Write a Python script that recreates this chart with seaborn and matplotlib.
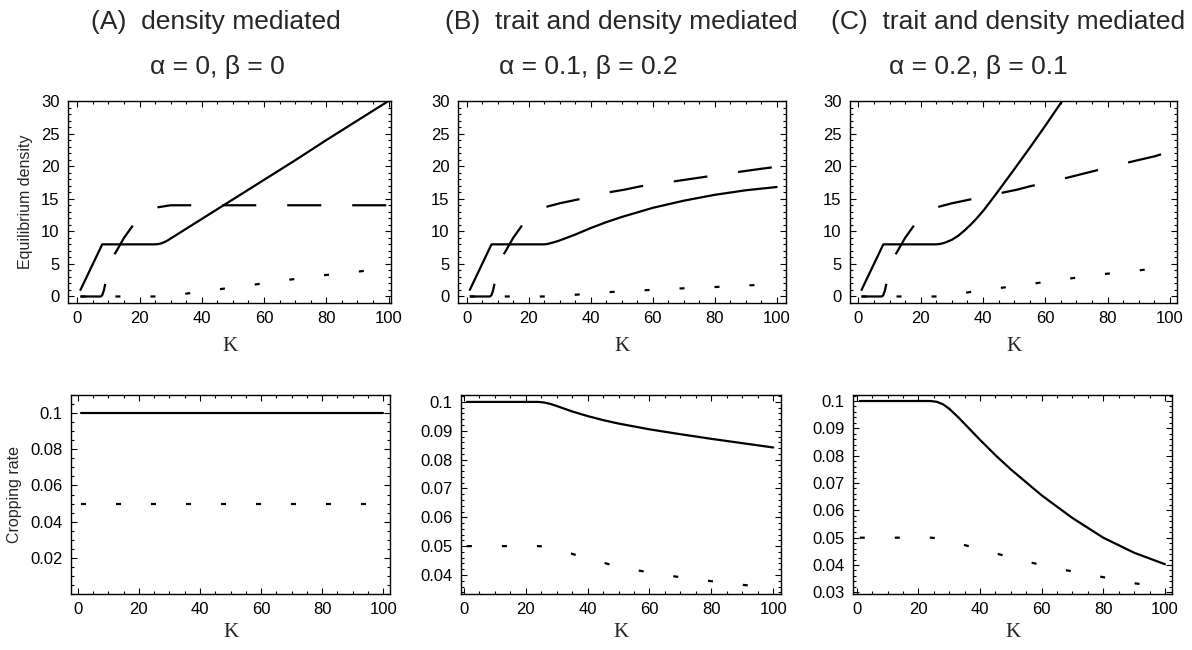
import matplotlib
matplotlib.use("Agg")
import matplotlib.pyplot as plt
import seaborn as sns
from matplotlib.ticker import MultipleLocator, FuncFormatter

# ---- data ----
# prey density (solid)
K_N_A = [1, 8, 25, 26, 27, 28, 29, 30, 32, 40, 50, 60, 70, 80, 90, 100]
N_A = [1, 8, 8, 8.05, 8.15, 8.35, 8.6, 8.9, 9.5, 11.9, 14.9, 17.9, 20.9, 24.0, 27.0, 30.0]
K_N_B = [1, 8, 25, 26, 28, 30, 35, 40, 45, 50, 60, 70, 80, 90, 100]
N_B = [1, 8, 8, 8.05, 8.3, 8.6, 9.5, 10.5, 11.4, 12.2, 13.6, 14.7, 15.6, 16.3, 16.8]
K_N_C = [1, 8, 25, 26, 27, 28, 30, 32, 34, 36, 38, 40, 44, 50, 55, 60, 65, 70]
N_C = [1, 8, 8, 8.05, 8.15, 8.3, 8.7, 9.3, 10.1, 11.0, 12.0, 13.1, 15.6, 19.5, 22.8, 26.2, 29.7, 33.2]

# predator density (long dashes)
K_P_A = [1, 7.5, 8, 8.5, 9, 10, 12, 15, 18, 22, 26, 30, 40, 60, 80, 100]
P_A = [0, 0, 0.2, 0.9, 2.0, 3.8, 6.5, 9.0, 11.0, 12.8, 13.7, 14.0, 14.0, 14.0, 14.0, 14.0]
K_P_B = [1, 7.5, 8, 8.5, 9, 10, 12, 15, 18, 22, 26, 30, 37, 46, 51, 56, 66, 76, 86, 95, 100]
P_B = [0, 0, 0.2, 0.9, 2.0, 3.8, 6.5, 9.0, 11.0, 12.8, 13.8, 14.3, 15.0, 16.0, 16.4, 16.9, 17.6, 18.3, 19.0, 19.6, 19.9]
K_P_C = [1, 7.5, 8, 8.5, 9, 10, 12, 15, 18, 22, 26, 30, 37, 46, 51, 55, 66, 76, 86, 95, 100]
P_C = [0, 0, 0.2, 0.9, 2.0, 3.8, 6.5, 9.0, 11.0, 12.8, 13.8, 14.3, 15.0, 15.9, 16.4, 16.9, 18.1, 19.3, 20.5, 21.5, 22.2]

# third species (short dashes)
K_Z = [1, 26, 28, 36, 47, 55, 67, 78, 90, 100]
Z_A = [0, 0, 0.02, 0.5, 1.2, 1.7, 2.5, 3.2, 3.8, 4.4]
Z_B = [0, 0, 0.02, 0.3, 0.7, 0.9, 1.2, 1.4, 1.7, 1.85]
Z_C = [0, 0, 0.02, 0.7, 1.4, 1.9, 2.7, 3.4, 4.0, 4.6]

# cropping rates
K_CA = [1, 100]
CS_A = [0.1, 0.1]
CD_A = [0.05, 0.05]
K_CS_B = [1, 24, 26, 28, 30, 35, 40, 45, 50, 60, 70, 80, 90, 100]
CS_B = [0.1, 0.1, 0.0998, 0.0993, 0.0986, 0.0967, 0.0951, 0.0937, 0.0925, 0.0905, 0.0888, 0.0872, 0.0857, 0.0842]
K_CS_C = [1, 24, 26, 28, 30, 33, 36, 40, 45, 50, 60, 70, 80, 90, 100]
CS_C = [0.1, 0.1, 0.0997, 0.0988, 0.0972, 0.0940, 0.0905, 0.0858, 0.0802, 0.0750, 0.0655, 0.0572, 0.0500, 0.0445, 0.0403]
K_CD = [1, 24, 26, 30, 36, 47, 55, 66, 78, 89, 100]
CD_B = [0.05, 0.05, 0.0499, 0.0490, 0.0470, 0.0437, 0.0418, 0.0398, 0.0381, 0.0367, 0.0355]
CD_C = [0.05, 0.05, 0.0498, 0.0488, 0.0470, 0.0437, 0.0413, 0.0385, 0.0360, 0.0335, 0.0318]

TITLES = ["(A)  density mediated", "(B)  trait and density mediated", "(C)  trait and density mediated"]
PARAMS = ["\u03b1 = 0, \u03b2 = 0", "\u03b1 = 0.1, \u03b2 = 0.2", "\u03b1 = 0.2, \u03b2 = 0.1"]

sns.set_style("ticks")
plt.rcParams["font.family"] = ["Liberation Sans", "DejaVu Sans"]
plt.rcParams["lines.scale_dashes"] = False

LONG = (0, (24.5, 22.3))
SHORT = (0, (3.6, 21.6))
LW = 1.6

fig = plt.figure(figsize=(11.92, 6.5), dpi=100)


def fmt(v, pos):
    return "%g" % round(v, 4)


def frame(ax, xlim, ylim, ymaj, ymin, pad):
    ax.set_xlim(*xlim)
    ax.set_ylim(*ylim)
    ax.xaxis.set_major_locator(MultipleLocator(20))
    ax.xaxis.set_minor_locator(MultipleLocator(5))
    ax.yaxis.set_major_locator(MultipleLocator(ymaj))
    ax.yaxis.set_minor_locator(MultipleLocator(ymin))
    ax.yaxis.set_major_formatter(FuncFormatter(fmt))
    ax.tick_params(which="both", direction="in", top=True, right=True,
                   labelsize=12, width=0.8, colors="black")
    ax.tick_params(which="major", length=4, pad=6)
    ax.tick_params(which="minor", length=2)
    for s in ax.spines.values():
        s.set_linewidth(1.0)
        s.set_color("black")
    ax.set_xlabel("K", family="Liberation Serif", fontsize=15, labelpad=pad)


def line(ax, x, y, ls):
    sns.lineplot(x=x, y=y, ax=ax, color="black", linewidth=LW, linestyle=ls,
                 sort=False, estimator=None)


# top row
top_boxes = [(68, 391), (458, 786), (850, 1177)]
top_xlims = [(-3, 100.8), (-2.8, 103), (-2.7, 102.3)]
top_data = [(K_N_A, N_A, K_P_A, P_A, Z_A),
            (K_N_B, N_B, K_P_B, P_B, Z_B),
            (K_N_C, N_C, K_P_C, P_C, Z_C)]
for i, ((x0, x1), xl, (kn, n, kp, p, z)) in enumerate(zip(top_boxes, top_xlims, top_data)):
    ax = fig.add_axes([x0 / 1192, 1 - 303 / 650, (x1 - x0) / 1192, 202 / 650])
    line(ax, kn, n, "-")
    line(ax, kp, p, LONG)
    line(ax, K_Z, z, SHORT)
    frame(ax, xl, (-1, 30), 5, 1, 8)
    if i == 0:
        ax.set_ylabel("Equilibrium density", fontsize=11.5, labelpad=6)

# bottom row
bot_boxes = [(71, 390), (461, 781), (853, 1172)]
bot_xlims = [(-2.2, 102.2), (-0.9, 102.5), (-1.2, 102.3)]
bot_ylims = [(0, 0.11), (0.0334, 0.1024), (0.0294, 0.1022)]
bot_major = [0.02, 0.01, 0.01]
bot_minor = [0.005, 0.002, 0.002]
bot_data = [(K_CA, CS_A, K_CA, CD_A),
            (K_CS_B, CS_B, K_CD, CD_B),
            (K_CS_C, CS_C, K_CD, CD_C)]
for i, ((x0, x1), xl, yl, ma, mi, (ks, cs, kd, cd)) in enumerate(
        zip(bot_boxes, bot_xlims, bot_ylims, bot_major, bot_minor, bot_data)):
    ax = fig.add_axes([x0 / 1192, 1 - 594 / 650, (x1 - x0) / 1192, 199 / 650])
    line(ax, ks, cs, "-")
    line(ax, kd, cd, SHORT)
    frame(ax, xl, yl, ma, mi, 4)
    if i == 0:
        ax.set_yticks([0.02, 0.04, 0.06, 0.08, 0.1])
        ax.set_ylabel("Cropping rate", fontsize=11.5, labelpad=6)

# panel headings
t1_x = [216, 621, 1008]
t2_x = [217, 588, 978]
for t, p, a, b in zip(TITLES, PARAMS, t1_x, t2_x):
    fig.text(a / 1192, 1 - 22 / 650, t, ha="center", va="center", fontsize=19)
    fig.text(b / 1192, 1 - 67 / 650, p, ha="center", va="center", fontsize=19)

fig.savefig("out.png", dpi=100)
